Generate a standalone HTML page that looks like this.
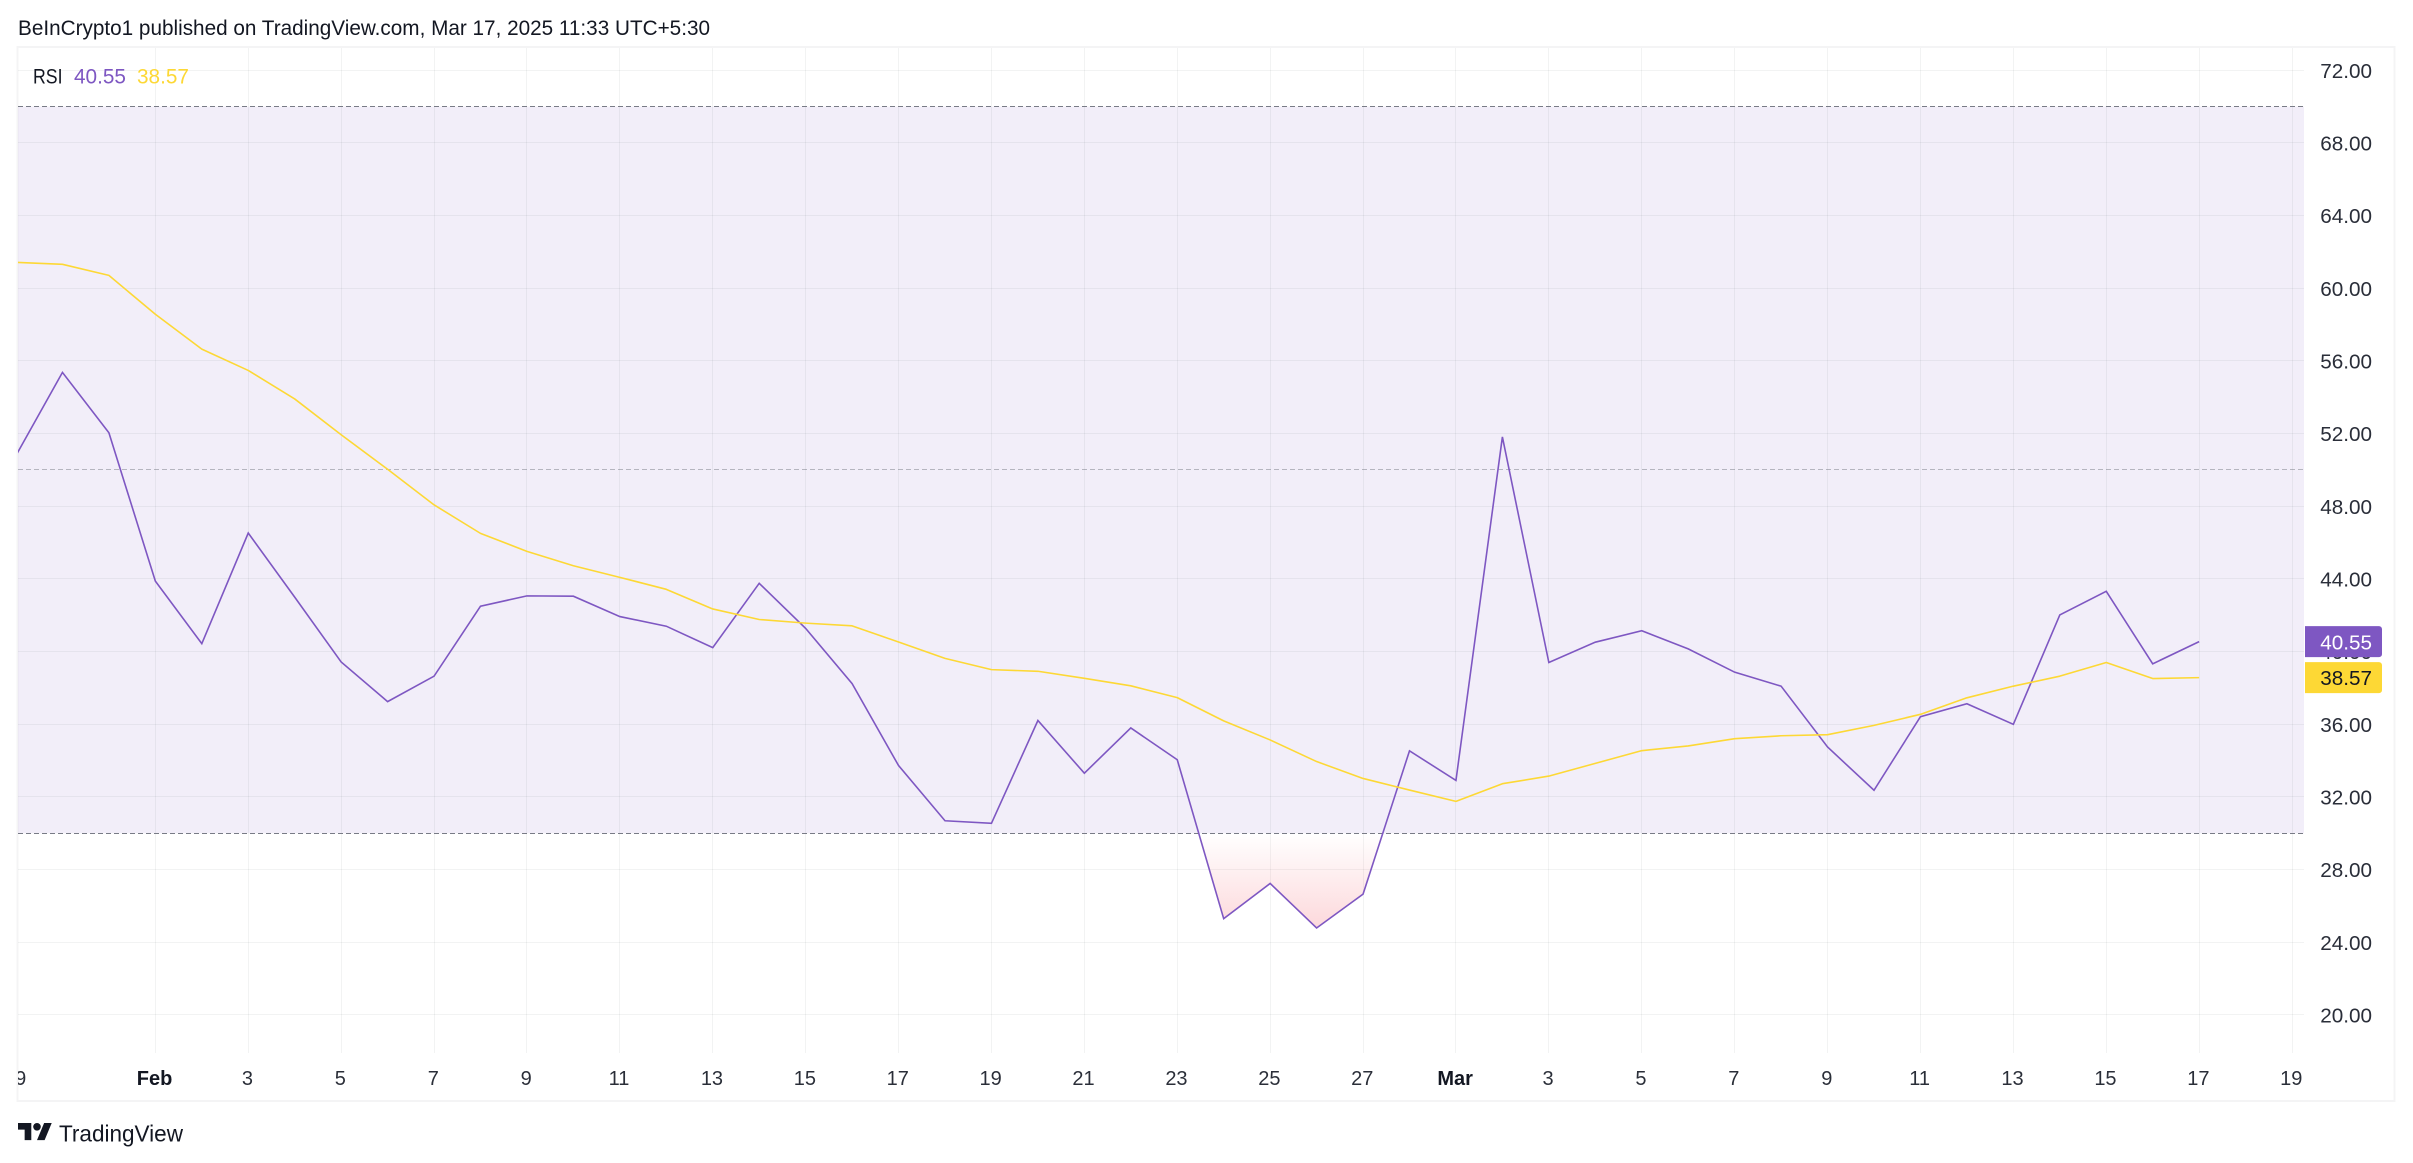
<!DOCTYPE html>
<html lang="en">
<head>
<meta charset="utf-8">
<title>RSI chart</title>
<style>
  html,body{margin:0;padding:0;background:#fff;width:2413px;height:1163px;overflow:hidden}
  svg{display:block}
  text{font-family:"Liberation Sans",Arial,sans-serif}
</style>
</head>
<body>
<svg id="chart" xmlns="http://www.w3.org/2000/svg" width="2413" height="1163" viewBox="0 0 2413 1163">
  <defs>
    <clipPath id="plot-clip"><rect x="18" y="48" width="2286" height="1005"/></clipPath>
    <clipPath id="xaxis-clip"><rect x="18" y="1053" width="2376" height="47"/></clipPath>
    <clipPath id="below-clip"><rect id="below-rect" x="18" y="0" width="2286" height="1053"/></clipPath>
    <linearGradient id="oversold-grad" gradientUnits="userSpaceOnUse" x1="0" x2="0" y1="0" y2="100">
      <stop offset="0" stop-color="#f23645" stop-opacity="0"/>
      <stop offset="1" stop-color="#f23645" stop-opacity="0.19"/>
    </linearGradient>
  </defs>
  <rect width="2413" height="1163" fill="#ffffff"/>
  <text x="18" y="35" font-size="21" fill="#131722" textLength="692" lengthAdjust="spacingAndGlyphs">BeInCrypto1 published on TradingView.com, Mar 17, 2025 11:33 UTC+5:30</text>
  <rect x="17.5" y="47" width="2377" height="1054" fill="none" stroke="#f4f4f5" stroke-width="2"/>
  <g id="bands"></g>
  <g id="grid"></g>
  <g id="hlines"></g>
  <g id="series" clip-path="url(#plot-clip)"></g>
  <g id="y-axis"></g>
  <g id="x-axis" clip-path="url(#xaxis-clip)"></g>
  <g id="badges"></g>
  <g id="legend"></g>
  <g transform="translate(18,1119.2) scale(0.95)" fill="#131722">
    <path d="M14 22H7V11H0V4h14v18zM28 22h-8l7.5-18h8L28 22z"/>
    <circle cx="20" cy="8" r="4"/>
  </g>
  <text x="59" y="1141.5" font-size="23" fill="#131722" textLength="124" lengthAdjust="spacingAndGlyphs">TradingView</text>
</svg>
<script>
// Index 0 = Jan 29, one entry per day through Mar 17
const rsiValues = [50.8,55.37,52.05,
  43.88,40.44,46.53,43.0,39.43,37.25,38.65,42.5,43.07,43.05,41.93,41.40,40.22,43.76,41.28,38.24,33.73,30.69,30.55,36.21,33.31,35.80,34.05,25.3,27.24,24.79,26.65,34.54,
  32.91,51.82,39.40,40.52,41.15,40.15,38.87,38.10,34.75,32.37,36.42,37.13,36.0,42.02,43.32,39.33,40.55];
const maValues = [61.43,61.32,60.71,
  58.57,56.65,55.48,53.91,51.94,50.04,48.08,46.51,45.52,44.73,44.09,43.43,42.35,41.77,41.57,41.42,40.53,39.63,39.01,38.92,38.53,38.12,37.47,36.19,35.14,33.95,33.02,32.38,
  31.76,32.73,33.15,33.85,34.55,34.81,35.21,35.37,35.43,35.94,36.55,37.46,38.10,38.65,39.40,38.52,38.57];
const yTickValues = [72,68,64,60,56,52,48,44,40,36,32,28,24,20];
const xTickDays = [0,3,5,7,9,11,13,15,17,19,21,23,25,27,29,31,33,35,37,39,41,43,45,47,49];
const xTickLabels = ['29','Feb','3','5','7','9','11','13','15','17','19','21','23','25','27','Mar','3','5','7','9','11','13','15','17','19'];
const boldTickLabels = ['Feb','Mar'];
const bandUpper = 70;
const bandMiddle = 50;
const bandLower = 30;

const NS = 'http://www.w3.org/2000/svg';
const xScale = d => 16 + 46.45 * d;
const yScale = v => 70.3 + (72 - v) * 18.167;
const plotLeft = 18, plotRight = 2304, plotTop = 48, plotBottom = 1053;

function make(tag, attrs, parent) {
  const el = document.createElementNS(NS, tag);
  for (const k in attrs) el.setAttribute(k, attrs[k]);
  parent.appendChild(el);
  return el;
}
const bandsG = document.getElementById('bands');
const gridG = document.getElementById('grid');
const hlinesG = document.getElementById('hlines');
const seriesG = document.getElementById('series');
const yAxisG = document.getElementById('y-axis');
const xAxisG = document.getElementById('x-axis');
const badgesG = document.getElementById('badges');
const legendG = document.getElementById('legend');

// background band
const band = make('rect', {x: plotLeft, y: yScale(bandUpper), width: plotRight - plotLeft, height: yScale(bandLower) - yScale(bandUpper), fill: '#7e57c2', 'fill-opacity': 0.1}, bandsG);



// horizontal grid + y tick labels
yTickValues.forEach(v => {
  const y = Math.floor(yScale(v)) + 0.5;
  const line = make('line', {x1: plotLeft, x2: plotRight, y1: y, y2: y, stroke: '#2a2e39', 'stroke-opacity': 0.06, 'stroke-width': 1}, gridG);
  
  
  const t = make('text', {x: 2372, y: yScale(v) + 7.6, 'text-anchor': 'end', 'font-size': 20.7, fill: '#2a2e39'}, yAxisG);
  t.textContent = v.toFixed(2);
  
  
});

// vertical grid + x tick labels
xTickDays.forEach((d, i) => {
  const x = Math.floor(xScale(d)) + 0.5;
  if (x > plotLeft) {
    const line = make('line', {x1: x, x2: x, y1: plotTop, y2: plotBottom, stroke: '#2a2e39', 'stroke-opacity': 0.06, 'stroke-width': 1}, gridG);
    
    
  }
  const label = xTickLabels[i];
  const bold = boldTickLabels.includes(label);
  const t = make('text', {x: xScale(d) - 0.8, y: 1085, 'text-anchor': 'middle', 'font-size': 20, fill: '#131722', 'fill-opacity': bold ? 1 : 0.9, 'font-weight': bold ? 'bold' : 'normal'}, xAxisG);
  t.textContent = label;
  
  
});

// reference lines
[[bandUpper, 1], [bandMiddle, 0.5], [bandLower, 1]].forEach(pair => {
  const y = Math.floor(yScale(pair[0])) + 0.5;
  const line = make('line', {x1: plotLeft, x2: plotRight, y1: y, y2: y, stroke: '#787b86', 'stroke-opacity': pair[1], 'stroke-width': 1, 'stroke-dasharray': '5 3'}, hlinesG);
  
  
});

// oversold fill
const y30 = yScale(bandLower);
document.getElementById('below-rect').setAttribute('y', y30);
const grad = document.getElementById('oversold-grad');
grad.setAttribute('y1', y30);
grad.setAttribute('y2', yScale(Math.min.apply(null, rsiValues)));
const fillPts = [xScale(0) + ',' + y30].concat(rsiValues.map((v, i) => xScale(i) + ',' + yScale(v)), [xScale(rsiValues.length - 1) + ',' + y30]);
const oversold = make('polygon', {points: fillPts.join(' '), fill: 'url(#oversold-grad)', 'clip-path': 'url(#below-clip)'}, seriesG);



// lines
const rsiLine = make('polyline', {points: rsiValues.map((v, i) => xScale(i) + ',' + yScale(v)).join(' '), fill: 'none', stroke: '#7e57c2', 'stroke-width': 1.6, 'stroke-linejoin': 'miter'}, seriesG);


const maLine = make('polyline', {points: maValues.map((v, i) => xScale(i) + ',' + yScale(v)).join(' '), fill: 'none', stroke: '#fdd835', 'stroke-width': 1.6, 'stroke-linejoin': 'round'}, seriesG);



// last value badges
const lastRsi = rsiValues[rsiValues.length - 1];
const lastMa = maValues[maValues.length - 1];
const rsiBadge = make('path', {d: 'M2305 ' + (yScale(lastRsi) - 15.5) + 'h74a3 3 0 0 1 3 3v25a3 3 0 0 1 -3 3h-74z', fill: '#7e57c2'}, badgesG);


const rsiBadgeText = make('text', {x: 2372, y: yScale(lastRsi) + 7.6, 'text-anchor': 'end', 'font-size': 20.7, fill: '#ffffff'}, badgesG);
rsiBadgeText.textContent = lastRsi.toFixed(2);


const maBadge = make('path', {d: 'M2305 ' + (yScale(lastMa) - 15.5) + 'h74a3 3 0 0 1 3 3v25a3 3 0 0 1 -3 3h-74z', fill: '#fdd835'}, badgesG);


const maBadgeText = make('text', {x: 2372, y: yScale(lastMa) + 7.6, 'text-anchor': 'end', 'font-size': 20.7, fill: '#131722'}, badgesG);
maBadgeText.textContent = lastMa.toFixed(2);



// legend
const legTitle = make('text', {x: 33, y: 83.5, 'font-size': 21, fill: '#131722', textLength: 29.5, lengthAdjust: 'spacingAndGlyphs'}, legendG);
legTitle.textContent = 'RSI';


const legRsi = make('text', {x: 74, y: 83.5, 'font-size': 21, fill: '#7e57c2', textLength: 52, lengthAdjust: 'spacingAndGlyphs'}, legendG);
legRsi.textContent = lastRsi.toFixed(2);


const legMa = make('text', {x: 137, y: 83.5, 'font-size': 21, fill: '#fdd835', textLength: 52, lengthAdjust: 'spacingAndGlyphs'}, legendG);
legMa.textContent = lastMa.toFixed(2);


</script>
</body>
</html>
